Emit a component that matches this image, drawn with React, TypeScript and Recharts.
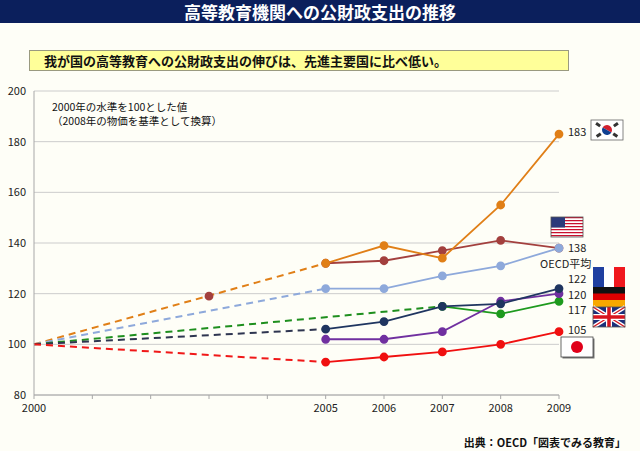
import { LineChart, Line, XAxis, YAxis, CartesianGrid } from 'recharts'

const years = [2000, 2001, 2002, 2003, 2004, 2005, 2006, 2007, 2008, 2009]

// 2000年=100 とした指数（推定値）
const koreaDash = [100, null, null, null, null, 132, null, null, null, null]
const korea = [null, null, null, null, null, 132, 139, 134, 155, 183]
const usa = [null, null, null, 119, null, 132, 133, 137, 141, 138]
const oecdDash = [100, null, null, null, null, 122, null, null, null, null]
const oecd = [null, null, null, null, null, 122, 122, 127, 131, 138]
const franceDash = [100, null, null, null, null, 106, null, null, null, null]
const france = [null, null, null, null, null, 106, 109, 115, 116, 122]
const germany = [null, null, null, null, null, 102, 102, 105, 117, 120]
const ukDash = [100, null, null, null, null, null, null, 115, null, null]
const uk = [null, null, null, null, null, null, null, 115, 112, 117]
const japanDash = [100, null, null, null, null, 93, null, null, null, null]
const japan = [null, null, null, null, null, 93, 95, 97, 100, 105]

const yTicks = [80, 100, 120, 140, 160, 180, 200]
const labeledYears = [2000, 2005, 2006, 2007, 2008, 2009]

const data = years.map((year, i) => ({
  year,
  koreaDash: koreaDash[i],
  korea: korea[i],
  usa: usa[i],
  oecdDash: oecdDash[i],
  oecd: oecd[i],
  franceDash: franceDash[i],
  france: france[i],
  germany: germany[i],
  ukDash: ukDash[i],
  uk: uk[i],
  japanDash: japanDash[i],
  japan: japan[i],
}))

const FONT = '"Noto Sans CJK JP", "Noto Sans", sans-serif'
const BG = '#FEFEF7'

// 2009年の点の右に値を出す（OECDは値を出さず名前だけ）
function endLabel(dy: number, name?: string) {
  return (props: any) => {
    const { x, y, index, value } = props
    if (index !== years.length - 1 || value == null) return null
    if (name) {
      return (
        <text x={x - 19} y={y + 17} fontSize={11} fill="#222" fontFamily={FONT} dominantBaseline="middle">
          {name}
        </text>
      )
    }
    return (
      <text x={x + 9} y={y + dy} fontSize={11} fill="#222" fontFamily={FONT} dominantBaseline="middle">
        {value}
      </text>
    )
  }
}

function Flags() {
  return (
    <svg width={640} height={451} style={{ position: 'absolute', left: 0, top: 0, pointerEvents: 'none' }}>
      {/* 韓国 */}
      <g transform="translate(591,120)">
        <rect width={32} height={20} fill="#fff" stroke="#666" strokeWidth={0.8} />
        <path d="M11 10 A5 5 0 0 1 21 10 Z" fill="#D2202F" transform="rotate(30 16 10)" />
        <path d="M11 10 A5 5 0 0 0 21 10 Z" fill="#0F3F91" transform="rotate(30 16 10)" />
        <rect x={5} y={3} width={5} height={3} fill="#333" transform="rotate(35 7 4)" />
        <rect x={22} y={3} width={5} height={3} fill="#333" transform="rotate(-35 25 4)" />
        <rect x={5} y={14} width={5} height={3} fill="#333" transform="rotate(-35 7 15)" />
        <rect x={22} y={14} width={5} height={3} fill="#333" transform="rotate(35 25 15)" />
      </g>
      {/* アメリカ */}
      <g transform="translate(551,217)">
        {[0, 1, 2, 3, 4, 5, 6].map((i) => (
          <rect key={i} y={i * 3} width={32} height={1.5} fill="#C8102E" />
        ))}
        {[0, 1, 2, 3, 4, 5, 6].map((i) => (
          <rect key={'w' + i} y={i * 3 + 1.5} width={32} height={1.5} fill="#fff" />
        ))}
        <rect width={14} height={10.5} fill="#2B3A7A" />
        <rect width={32} height={20} fill="none" stroke="#555" strokeWidth={0.8} />
      </g>
      {/* フランス */}
      <g transform="translate(593,267)">
        <rect width={11} height={20} fill="#1F3FA0" />
        <rect x={11} width={10} height={20} fill="#fff" />
        <rect x={21} width={11} height={20} fill="#F0181E" />
      </g>
      {/* ドイツ */}
      <g transform="translate(593,287)">
        <rect width={32} height={7} fill="#111" />
        <rect y={6.5} width={32} height={7} fill="#D00" />
        <rect y={13} width={32} height={7} fill="#F8A800" />
      </g>
      {/* イギリス */}
      <g transform="translate(593,307)">
        <rect width={32} height={20} fill="#1B2F7A" />
        <path d="M0 0 L32 20 M32 0 L0 20" stroke="#fff" strokeWidth={4} />
        <path d="M0 0 L32 20 M32 0 L0 20" stroke="#D8141E" strokeWidth={1.4} />
        <path d="M16 0 V20 M0 10 H32" stroke="#fff" strokeWidth={6} />
        <path d="M16 0 V20 M0 10 H32" stroke="#D8141E" strokeWidth={3.5} />
        <rect width={32} height={20} fill="none" stroke="#555" strokeWidth={0.8} />
      </g>
      {/* 日本 */}
      <g transform="translate(561,337)">
        <rect x={1.5} y={1.5} width={32} height={20} fill="#777" />
        <rect width={32} height={20} fill="#fff" stroke="#444" strokeWidth={0.8} />
        <circle cx={16} cy={10} r={6} fill="#E0001A" />
      </g>
    </svg>
  )
}

export default function App() {
  return (
    <div style={{ position: 'absolute', left: 0, top: 0, width: 640, height: 451, background: BG, fontFamily: FONT, overflow: 'hidden' }}>
      <div
        style={{
          position: 'absolute', left: 0, top: 0, width: 640, height: 23, background: '#0B1F5C',
          color: '#fff', fontSize: 17, fontWeight: 700, textAlign: 'center', lineHeight: '23px',
        }}
      >
        高等教育機関への公財政支出の推移
      </div>
      <div
        style={{
          position: 'absolute', left: 29, top: 50, width: 540, height: 21, background: '#FFFF99',
          border: '1px solid #9A9A80', fontSize: 13, fontWeight: 700, lineHeight: '19px',
          paddingLeft: 14, boxSizing: 'border-box', color: '#111',
        }}
      >
        我が国の高等教育への公財政支出の伸びは、先進主要国に比べ低い。
      </div>

      <div style={{ position: 'absolute', left: 0, top: 0 }}>
        <LineChart width={640} height={451} data={data} margin={{ top: 91, right: 81, bottom: 36, left: 0 }}>
          <CartesianGrid horizontal vertical={false} stroke="#CCCCCC" />
          <XAxis
            dataKey="year"
            type="number"
            domain={[2000, 2009]}
            ticks={years}
            tickFormatter={(v) => (labeledYears.includes(v) ? String(v) : '')}
            tick={{ fontSize: 11, fill: '#222', fontFamily: FONT }}
            tickSize={4}
            tickMargin={5}
            stroke="#A8A8A8"
            height={20}
          />
          <YAxis
            domain={[80, 200]}
            ticks={yTicks}
            tick={{ fontSize: 11, fill: '#222', fontFamily: FONT }}
            tickLine={false}
            tickSize={0}
            tickMargin={8}
            stroke="#A8A8A8"
            width={34}
          />

          <Line dataKey="koreaDash" stroke="#E07F17" strokeWidth={2} strokeDasharray="7 5" dot={false} connectNulls isAnimationActive={false} />
          <Line dataKey="oecdDash" stroke="#8EA9DB" strokeWidth={2} strokeDasharray="7 5" dot={false} connectNulls isAnimationActive={false} />
          <Line dataKey="ukDash" stroke="#1E8F1E" strokeWidth={2} strokeDasharray="7 5" dot={false} connectNulls isAnimationActive={false} />
          <Line dataKey="franceDash" stroke="#2E3550" strokeWidth={2} strokeDasharray="7 5" dot={false} connectNulls isAnimationActive={false} />
          <Line dataKey="japanDash" stroke="#F01818" strokeWidth={2} strokeDasharray="7 5" dot={false} connectNulls isAnimationActive={false} />

          <Line dataKey="usa" stroke="#A3403E" strokeWidth={1.8} dot={{ r: 3.5, fill: '#A3403E', stroke: '#A3403E' }} label={endLabel(1)} isAnimationActive={false} />
          <Line dataKey="oecd" stroke="#8EA9DB" strokeWidth={1.8} dot={{ r: 3.5, fill: '#8EA9DB', stroke: '#8EA9DB' }} label={endLabel(0, 'OECD平均')} isAnimationActive={false} />
          <Line dataKey="korea" stroke="#E07F17" strokeWidth={1.8} dot={{ r: 3.5, fill: '#E07F17', stroke: '#E07F17' }} label={endLabel(-1)} isAnimationActive={false} />
          <Line dataKey="uk" stroke="#1E9A1E" strokeWidth={1.8} dot={{ r: 3.5, fill: '#1E9A1E', stroke: '#1E9A1E' }} label={endLabel(10)} isAnimationActive={false} />
          <Line dataKey="germany" stroke="#7030A0" strokeWidth={1.8} dot={{ r: 3.5, fill: '#7030A0', stroke: '#7030A0' }} label={endLabel(2)} isAnimationActive={false} />
          <Line dataKey="france" stroke="#1F3560" strokeWidth={1.8} dot={{ r: 3.5, fill: '#1F3560', stroke: '#1F3560' }} label={endLabel(-9)} isAnimationActive={false} />
          <Line dataKey="japan" stroke="#F01010" strokeWidth={1.8} dot={{ r: 3.5, fill: '#F01010', stroke: '#F01010' }} label={endLabel(-1)} isAnimationActive={false} />
        </LineChart>
      </div>

      <div style={{ position: 'absolute', left: 52, top: 100, fontSize: 10.5, lineHeight: '14px', color: '#111' }}>
        <div>2000年の水準を100とした値</div>
        <div>（2008年の物価を基準として換算）</div>
      </div>

      <div style={{ position: 'absolute', right: 14, top: 434, fontSize: 11, fontWeight: 700, color: '#111' }}>
        出典：OECD「図表でみる教育」
      </div>

      <Flags />
    </div>
  )
}
